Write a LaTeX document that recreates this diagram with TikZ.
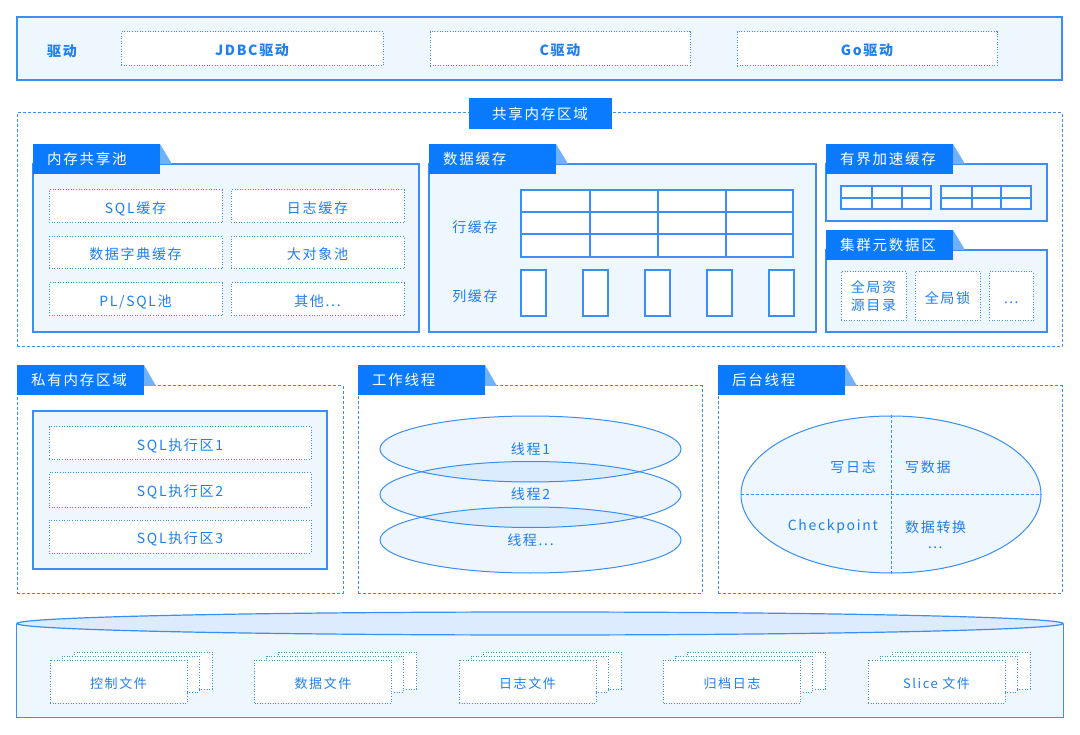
\documentclass[tikz,border=0pt]{standalone}
\usepackage{fontspec}
\setmainfont{Noto Sans CJK SC}
\newfontfamily\lsf[LetterSpace=12]{Noto Sans CJK SC}
\usetikzlibrary{shapes.geometric}
\definecolor{tabblue}{HTML}{0A7BFF}
\definecolor{linecol}{HTML}{3A8EF5}
\definecolor{txtblue}{HTML}{1F7FEF}
\definecolor{lightfill}{HTML}{EEF6FE}
\definecolor{foldcol}{HTML}{6DB1FF}
\definecolor{capfill}{HTML}{DCEBFD}
\newcommand\bx[7]{\node[#6, minimum width={(#4)-(#2)}, minimum height={(#5)-(#3)}] (#1) at ({((#2)+(#4))/2},{((#3)+(#5))/2}) {#7};}
\newcommand\tabx[5]{%
  \fill[foldcol] ({#2+127},#3) -- ({#2+139},#4) -- ({#2+127},#4) -- cycle;
  \node[tabbox] (#1) at (#2,#3) {};
  \node[tabtext] (#1t) at ({#2+14},{#3+15}) {#5};}
\newcommand\fstack[3]{%
  \bx{#1c}{#2+24}{652}{#2+162}{689}{dotbox}{}
  \bx{#1b}{#2+12}{656}{#2+149}{692}{dotbox}{}
  \bx{#1}{#2}{660}{#2+137}{703}{dotbox,font=\lsf\fontsize{13}{15}\selectfont}{#3}}
\newcommand\mdots{{\fontsize{14}{17}\selectfont ⋯}}
\tikzset{
  panel/.style={draw=linecol, fill=lightfill, line width=1.2pt, inner sep=0pt},
  gridbox/.style={draw=linecol, fill=white, line width=1.1pt, inner sep=0pt},
  gridline/.style={draw=linecol, line width=1.1pt},
  dotbox/.style={draw=linecol, fill=white, line width=1pt, dash pattern=on 1pt off 1.6pt, inner sep=0pt, text=txtblue, font=\lsf\fontsize{14}{18}\selectfont, text height=14pt, text depth=0.5pt},
  region/.style={draw=linecol, line width=1pt, dash pattern=on 3pt off 2pt, inner sep=0pt},
  tabbox/.style={fill=tabblue, inner sep=0pt, minimum width=127, minimum height=30, anchor=north west},
  tabtext/.style={text=white, font=\lsf\fontsize{14.5}{17}\selectfont, anchor=west, inner sep=0pt},
  lbl/.style={text=txtblue, font=\lsf\fontsize{14}{17}\selectfont, inner sep=0pt, align=center},
  thr/.style={ellipse, draw=linecol, line width=1pt, fill=tabblue, fill opacity=0.07, text opacity=1, minimum width=301, minimum height=66, inner sep=0pt, text=txtblue, font=\lsf\fontsize{14}{17}\selectfont},
}
\begin{document}
\begin{tikzpicture}[x=1pt, y=-1pt]
\useasboundingbox[fill=white] (0,0) rectangle (1080,735);
% drivers
\bx{drv}{17}{17}{1062}{80}{panel}{}
\node[lbl, font=\lsf\bfseries\fontsize{14}{17}\selectfont] (drvl) at (62,51) {驱动};
\bx{jdbc}{121}{32}{383}{66}{dotbox, font=\lsf\bfseries\fontsize{14}{17}\selectfont}{JDBC驱动}
\bx{cdrv}{430}{32}{690}{66}{dotbox, font=\lsf\bfseries\fontsize{14}{17}\selectfont}{C驱动}
\bx{godrv}{737}{32}{997}{66}{dotbox, font=\lsf\bfseries\fontsize{14}{17}\selectfont}{Go驱动}
% shared region
\bx{shared}{17}{113}{1062}{347}{region}{}
\node[fill=tabblue, minimum width=143, minimum height=31, inner sep=0pt, text=white, font=\lsf\fontsize{14.5}{17}\selectfont] (sharedt) at (540,113.5) {共享内存区域};
% memory pool
\bx{pool}{33}{164}{419}{332}{panel}{}
\tabx{poolt}{33}{144}{164}{内存共享池}
\bx{sqlc}{49}{190}{222}{223}{dotbox}{SQL缓存}
\bx{logc}{231}{190}{404}{223}{dotbox}{日志缓存}
\bx{dict}{49}{237}{222}{269}{dotbox}{数据字典缓存}
\bx{lob}{231}{237}{404}{269}{dotbox}{大对象池}
\bx{plsql}{49}{283}{222}{316}{dotbox}{PL/SQL池}
\bx{other}{231}{283}{404}{316}{dotbox}{其他...}
% data cache
\bx{dc}{429}{164}{816}{332}{panel}{}
\tabx{dct}{429}{144}{164}{数据缓存}
\bx{rowg}{521}{190}{793}{257}{gridbox}{}
\draw[gridline] (521,212) -- (793,212) (521,234) -- (793,234)
  (590,190) -- (590,257) (658,190) -- (658,257) (726,190) -- (726,257);
\bx{col1}{521}{270}{546}{316}{gridbox}{}
\bx{col2}{583}{270}{608}{316}{gridbox}{}
\bx{col3}{645}{270}{670}{316}{gridbox}{}
\bx{col4}{707}{270}{732}{316}{gridbox}{}
\bx{col5}{769}{270}{794}{316}{gridbox}{}
\node[lbl] (rowl) at (475,227) {行缓存};
\node[lbl] (coll) at (475,296) {列缓存};
% bounded cache
\bx{bc}{826}{164}{1047}{221}{panel}{}
\tabx{bct}{826}{144}{164}{有界加速缓存}
\bx{g1}{841}{186}{931}{209}{gridbox}{}
\bx{g2}{941}{186}{1031}{209}{gridbox}{}
\draw[gridline] (841,198) -- (931,198) (872,186) -- (872,209) (902,186) -- (902,209)
  (941,198) -- (1031,198) (972,186) -- (972,209) (1001,186) -- (1001,209);
% cluster metadata
\bx{cm}{826}{250}{1047}{332}{panel}{}
\tabx{cmt}{826}{230}{250}{集群元数据区}
\bx{grd}{841}{272}{906}{321}{dotbox, text height=, text depth=, align=center}{全局资\\源目录}
\bx{glk}{915}{272}{980}{321}{dotbox}{全局锁}
\bx{gmore}{989}{272}{1033}{321}{dotbox}{\mdots}
% private region
\bx{priv}{17}{386}{343}{593}{region}{}
\tabx{privt}{17}{365}{386}{私有内存区域}
\bx{privin}{33}{411}{327}{569}{panel}{}
\bx{sql1}{49}{427}{311}{460}{dotbox}{SQL执行区1}
\bx{sql2}{49}{473}{311}{507}{dotbox}{SQL执行区2}
\bx{sql3}{49}{520}{311}{553}{dotbox}{SQL执行区3}
% worker threads
\bx{work}{358}{386}{702}{593}{region}{}
\tabx{workt}{358}{365}{386}{工作线程}
\node[thr] (t1) at (530.5,449) {线程1};
\node[thr] (t2) at (530.5,494.5) {线程2};
\node[thr] (t3) at (530.5,540) {线程...};
% background threads
\bx{bg}{718}{386}{1062}{593}{region}{}
\tabx{bgt}{718}{365}{386}{后台线程}
\node[ellipse, draw=linecol, fill=lightfill, line width=1pt, minimum width=300, minimum height=157, inner sep=0pt] (bge) at (891,494.5) {};
\draw[region] (bge.north) -- (bge.south);
\draw[region] (bge.west) -- (bge.east);
\node[lbl, anchor=east] (wlog) at (876,467) {写日志};
\node[lbl, anchor=west] (wdata) at (905,467) {写数据};
\node[lbl, anchor=east] (ckpt) at (878,527) {Checkpoint};
\node[lbl, anchor=west] (conv) at (905,527) {数据转换};
\node[lbl] (bgmore) at (935,548) {\mdots};
% storage
\bx{disk}{17}{624}{1063}{717}{fill=lightfill, inner sep=0pt}{}
\draw[linecol, line width=1.2pt] (disk.north west) -- (disk.south west) -- (disk.south east) -- (disk.north east);
\node[ellipse, draw=linecol, fill=capfill, line width=1.2pt, minimum width=1046, minimum height=23, inner sep=0pt] (cap) at (540,623.5) {};
\fstack{f1}{50}{控制文件}
\fstack{f2}{254.5}{数据文件}
\fstack{f3}{459}{日志文件}
\fstack{f4}{663.5}{归档日志}
\fstack{f5}{868}{Slice 文件}
\end{tikzpicture}
\end{document}
